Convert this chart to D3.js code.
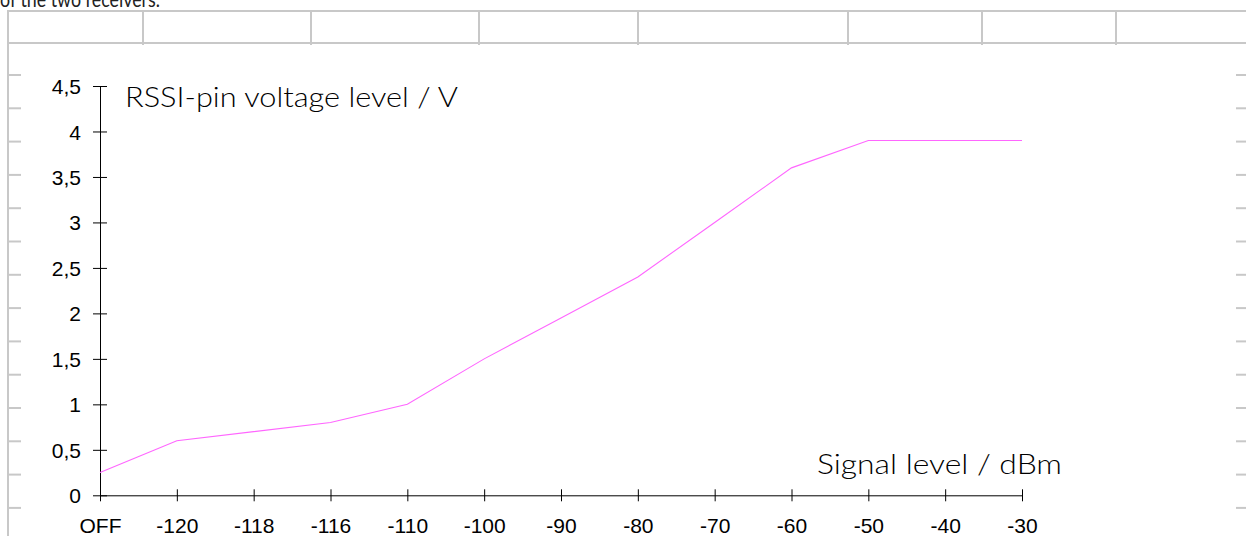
<!DOCTYPE html>
<html>
<head>
<meta charset="utf-8">
<script src="https://cdn.jsdelivr.net/npm/d3@7"></script>
<style>
  html, body { margin: 0; padding: 0; background: #ffffff; overflow: hidden; }
  svg { display: block; }
</style>
</head>
<body>
<svg id="chart" width="1246" height="536"></svg>
<script>
// ---- data ----
const categories = ["OFF", "-120", "-118", "-116", "-110", "-100", "-90", "-80", "-70", "-60", "-50", "-40", "-30"];
const rssiVoltage = [0.25, 0.6, 0.7, 0.8, 1.0, 1.5, 1.95, 2.4, 3.0, 3.6, 3.9, 3.9, 3.9];
const yTickValues = [0, 0.5, 1, 1.5, 2, 2.5, 3, 3.5, 4, 4.5];
const yAxisTitle = "RSSI-pin voltage level / V";
const xAxisTitle = "Signal level / dBm";
const captionAbove = "of the two receivers.";
// spreadsheet background grid
const sheetColumns = [8, 143, 311, 479, 638, 848, 982, 1116];
const sheetRows = [11, 43];

const svg = d3.select("#chart");
const W = 1246, H = 536;
const titleFont = "Lato, 'Liberation Sans', sans-serif";
const tickFont = "'Liberation Sans', Arial, sans-serif";

// ---- spreadsheet backdrop ----
const grid = svg.append("g").attr("stroke", "#c8c8c8").attr("stroke-width", 2);
sheetRows.forEach(y => grid.append("line").attr("x1", 8).attr("x2", W).attr("y1", y).attr("y2", y));
sheetColumns.forEach((x, i) => grid.append("line")
  .attr("x1", x).attr("x2", x).attr("y1", 10).attr("y2", i === 0 ? H : 45));
// row markers on both sides
const rowMarks = d3.range(14).map(i => 75 + i * 33.3);
rowMarks.forEach(y => {
  grid.append("line").attr("x1", 8).attr("x2", 21).attr("y1", y).attr("y2", y);
  grid.append("line").attr("x1", 1236).attr("x2", W).attr("y1", y).attr("y2", y);
});

svg.append("text").attr("x", 0).attr("y", 7)
  .attr("font-family", titleFont).attr("font-size", 22)
  .attr("textLength", 160).attr("lengthAdjust", "spacingAndGlyphs")
  .attr("fill", "#222").text(captionAbove);

// ---- scales ----
const x = d3.scalePoint().domain(categories).range([100, 1022]);
const y = d3.scaleLinear().domain([0, 4.5]).range([495.3, 86]);

const fmt = d => String(d).replace(".", ",");

// ---- y axis ----
const yAxis = svg.append("g").attr("transform", "translate(100,0)")
  .call(d3.axisLeft(y).tickValues(yTickValues).tickFormat(fmt).tickSizeInner(7).tickSizeOuter(0));
yAxis.select(".domain").attr("stroke", "#000");
yAxis.selectAll(".tick line").attr("x1", -7).attr("x2", 7).attr("stroke", "#000");
yAxis.selectAll(".tick text").attr("x", -19).attr("dy", "0.36em")
  .attr("font-family", tickFont).attr("font-size", 21).attr("fill", "#000");

// ---- x axis ----
const xAxis = svg.append("g").attr("transform", "translate(0,495.3)")
  .call(d3.axisBottom(x).tickSizeInner(6).tickSizeOuter(0));
xAxis.select(".domain").attr("stroke", "#000");
xAxis.selectAll(".tick line").attr("y1", -6).attr("y2", 6).attr("stroke", "#000");
xAxis.selectAll(".tick text").attr("y", 23).attr("dy", "0.71em")
  .attr("font-family", tickFont).attr("font-size", 21).attr("fill", "#000");

// ---- series ----
const line = d3.line().x((d, i) => x(categories[i])).y(d => y(d));
svg.append("path").datum(rssiVoltage)
  .attr("fill", "none").attr("stroke", "#ff66ff").attr("stroke-width", 1.1)
  .attr("d", line);

// ---- axis titles ----
svg.append("text").attr("x", 125).attr("y", 107)
  .attr("font-family", titleFont).attr("font-weight", 300).attr("font-size", 27)
  .attr("fill", "#000").attr("textLength", 333).attr("lengthAdjust", "spacingAndGlyphs")
  .text(yAxisTitle);
svg.append("text").attr("x", 817).attr("y", 474)
  .attr("font-family", titleFont).attr("font-weight", 300).attr("font-size", 27)
  .attr("fill", "#000").attr("textLength", 245).attr("lengthAdjust", "spacingAndGlyphs")
  .text(xAxisTitle);
</script>
</body>
</html>
